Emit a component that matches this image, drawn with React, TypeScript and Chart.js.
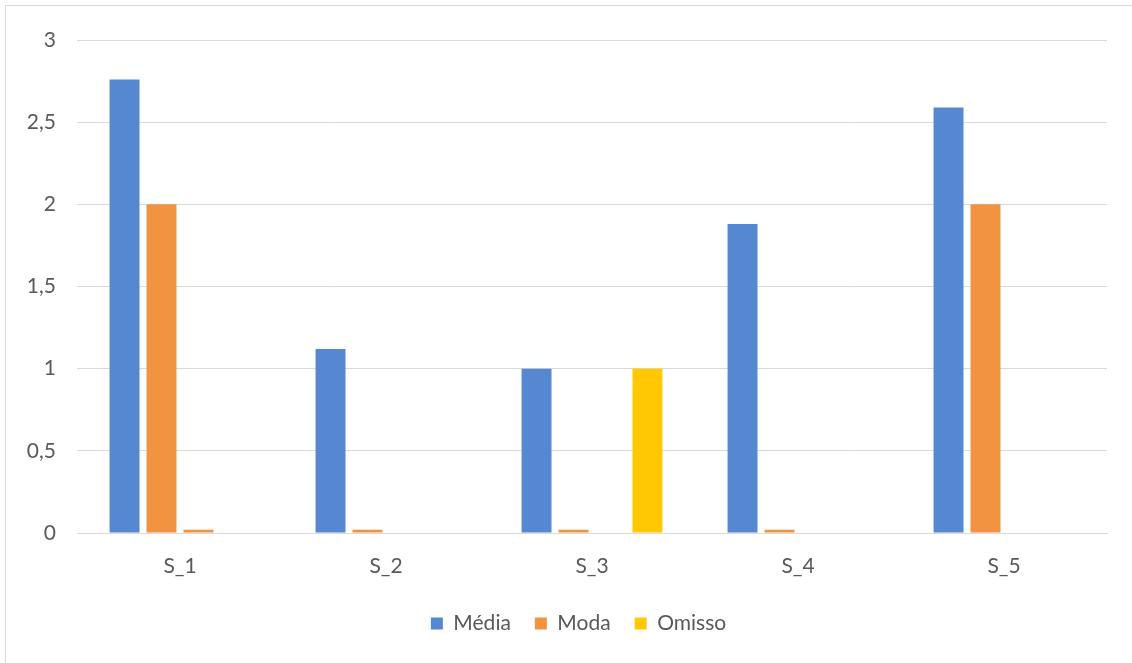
import React, { useEffect, useRef } from "react";
import { Chart, registerables } from "chart.js";

Chart.register(...registerables);

const categories = ["S_1", "S_2", "S_3", "S_4", "S_5"];
const media = [2.76, 1.12, 1.0, 1.88, 2.59];
const moda = [2.0, 0.02, 0.02, 0.02, 2.0];
const modaExtra = [0.02, 0, 0, 0, 0];
const omisso = [0, 0, 1.0, 0, 0];
const yTicks = [0, 0.5, 1, 1.5, 2, 2.5, 3];

const BLUE = "#5588D0";
const ORANGE = "#F29342";
const YELLOW = "#FFC800";
const FONT = "Lato, 'Open Sans', sans-serif";

const legendShift = {
  id: "legendShift",
  afterLayout(chart: any) {
    if (chart.legend) {
      chart.legend.left += 25;
      chart.legend.right += 25;
    }
  },
};

export default function App() {
  const ref = useRef<HTMLCanvasElement | null>(null);

  useEffect(() => {
    if (!ref.current) return;
    const chart = new Chart(ref.current, {
      type: "bar",
      data: {
        labels: categories,
        datasets: [
          { label: "Média", data: media, backgroundColor: BLUE },
          { label: "Moda", data: moda, backgroundColor: ORANGE },
          { label: "", data: modaExtra, backgroundColor: ORANGE },
          { label: "Omisso", data: omisso, backgroundColor: YELLOW },
        ],
      },
      plugins: [legendShift],
      options: {
        animation: false,
        responsive: false,
        maintainAspectRatio: false,
        datasets: { bar: { categoryPercentage: 0.718, barPercentage: 0.81 } },
        layout: { padding: { top: 40, right: 25, bottom: 19, left: 0 } },
        plugins: {
          tooltip: { enabled: false },
          legend: {
            position: "bottom",
            labels: {
              filter: (item: any) => item.text !== "",
              boxWidth: 12,
              boxHeight: 12,
              padding: 24,
              color: "#595959",
              font: { family: FONT, size: 21 },
            },
          },
        },
        scales: {
          x: {
            grid: { display: false, drawTicks: false },
            border: { display: true, color: "#d9d9d9", width: 1 },
            ticks: { color: "#595959", padding: 21, font: { family: FONT, size: 21 } },
            afterFit: (s: any) => { s.height = 56; },
          },
          y: {
            min: 0,
            max: 3,
            afterBuildTicks: (s: any) => { s.ticks = yTicks.map((v) => ({ value: v })); },
            grid: { color: "#d9d9d9", lineWidth: 1, drawTicks: false },
            border: { display: false },
            ticks: {
              color: "#595959",
              padding: 21,
              font: { family: FONT, size: 21 },
              callback: (v: any) => String(v).replace(".", ","),
            },
            afterFit: (s: any) => { s.width = 77; },
          },
        },
      },
    });
    return () => chart.destroy();
  }, []);

  return (
    <div style={{ position: "fixed", left: 0, top: 0, width: 1132, height: 663, overflow: "hidden", background: "#fff" }}>
      <div style={{ position: "absolute", left: 5, top: 5, width: 1160, height: 700, border: "1px solid #d9d9d9" }} />
      <canvas ref={ref} width={1132} height={663} style={{ position: "absolute", left: 0, top: 0 }} />
    </div>
  );
}
